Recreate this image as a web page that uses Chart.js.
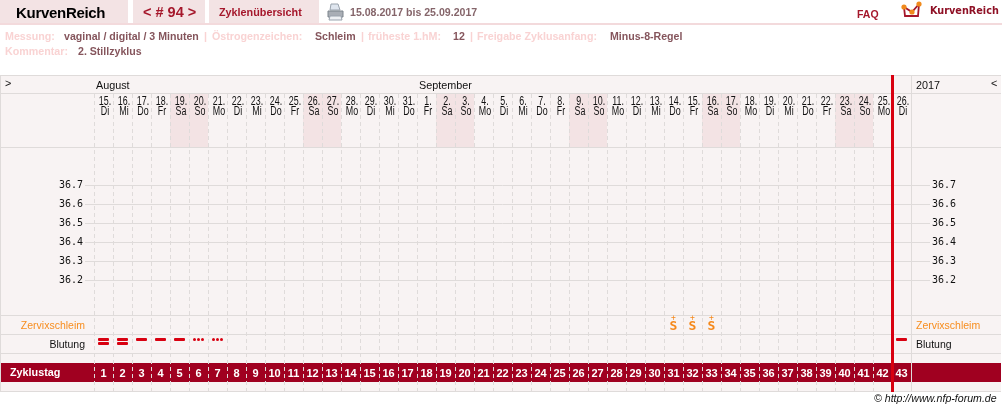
<!DOCTYPE html>
<html lang="de"><head><meta charset="utf-8"><title>KurvenReich</title>
<script src="https://cdn.jsdelivr.net/npm/chart.js@4/dist/chart.umd.min.js"></script>
<style>
html,body{margin:0;padding:0;background:#fff;width:1002px;height:411px;overflow:hidden}
body{position:relative;font-family:"Liberation Sans",Arial,sans-serif}
#c{position:absolute;left:0;top:0}
.t{position:absolute;white-space:nowrap;line-height:1;z-index:2}
.tab{position:absolute;top:0;height:23px;background:#f3e3e4}
.l{color:#f9d3d3;font-weight:bold;font-size:10.7px;top:31px}
.v{color:#85555c;font-weight:bold;font-size:10.6px;top:31px}
.g{font-size:10.8px;color:#111}
.r{font-size:10.5px}
</style></head><body>
<div class="tab" style="left:0;width:128px"></div>
<div class="tab" style="left:133px;width:72px"></div>
<div class="tab" style="left:209px;width:110px"></div>
<div style="position:absolute;left:0;top:23px;width:1002px;height:2px;background:#f3dadc"></div>
<span class="t" style="left:16px;top:5px;font-size:15px;letter-spacing:-0.3px;font-weight:bold;color:#000">KurvenReich</span>
<span class="t" style="left:143px;top:5px;font-size:14.5px;font-weight:bold;color:#a5172b">&lt; # 94 &gt;</span>
<span class="t" style="left:219px;top:7px;font-size:10.8px;font-weight:bold;color:#a5172b">Zyklenübersicht</span>
<svg style="position:absolute;left:327px;top:3px" width="17" height="18" viewBox="0 0 17 18"><path d="M4 1h7l2 6H3z" fill="#dfe6ef" stroke="#9aa3ad"/><path d="M1 8h15v6H1z" fill="#a9aeb5" stroke="#7d848c"/><path d="M3 13h11l1 4H2z" fill="#eef0f3" stroke="#9aa3ad"/></svg>
<span class="t" style="left:350px;top:7px;font-size:10.6px;font-weight:bold;color:#85656a">15.08.2017 bis 25.09.2017</span>
<span class="t" style="left:857px;top:9px;font-size:10.5px;font-weight:bold;color:#a5172b">FAQ</span>
<svg style="position:absolute;left:901px;top:1px" width="22" height="18" viewBox="0 0 22 18"><path d="M3 6L4 15H17L18 3" fill="none" stroke="#a5172b" stroke-width="1.8"/><path d="M3 6L11 11L18 3" fill="none" stroke="#a5172b" stroke-width="1.8"/><circle cx="3" cy="6" r="2.6" fill="#f08a1d"/><circle cx="11" cy="11" r="2.6" fill="#f08a1d"/><circle cx="18" cy="3" r="2.6" fill="#f08a1d"/></svg>
<span class="t" style="left:930px;top:6px;font-family:'DejaVu Sans';font-size:9.7px;font-weight:bold;color:#8f1025">KurvenReich</span>

<span class="t l" style="left:5px">Messung:</span>
<span class="t v" style="left:64px">vaginal / digital / 3 Minuten</span>
<span class="t l" style="left:204px">|</span>
<span class="t l" style="left:212px">Östrogenzeichen:</span>
<span class="t v" style="left:315px">Schleim</span>
<span class="t l" style="left:361px">|</span>
<span class="t l" style="left:368px">früheste 1.hM:</span>
<span class="t v" style="left:453px">12</span>
<span class="t l" style="left:470px">|</span>
<span class="t l" style="left:477px">Freigabe Zyklusanfang:</span>
<span class="t v" style="left:610px">Minus-8-Regel</span>
<span class="t l" style="left:5px;top:46px">Kommentar:</span>
<span class="t v" style="left:78px;top:46px">2. Stillzyklus</span>

<canvas id="c" width="1002" height="411"></canvas>

<span class="t g" style="left:5px;top:78px">&gt;</span>
<span class="t g" style="left:96px;top:80px">August</span>
<span class="t g" style="left:419px;top:80px">September</span>
<span class="t g" style="left:916px;top:80px">2017</span>
<span class="t g" style="left:991px;top:78px">&lt;</span>
<span class="t r" style="right:917px;top:320px;color:#f78d1e">Zervixschleim</span>
<span class="t g r" style="right:917px;top:339px">Blutung</span>
<span class="t r" style="left:916px;top:320px;color:#f78d1e">Zervixschleim</span>
<span class="t g r" style="left:916px;top:339px">Blutung</span>
<span class="t" style="left:10px;top:367px;font-size:10.8px;font-weight:bold;color:#fff">Zyklustag</span>
<span class="t" style="left:874px;top:393px;font-size:10.6px;font-style:italic;color:#111">© http://www.nfp-forum.de</span>

<script>
// ---- chart data ----
const cycleDays = ['1','2','3','4','5','6','7','8','9','10','11','12','13','14','15','16','17','18','19','20','21','22','23','24','25','26','27','28','29','30','31','32','33','34','35','36','37','38','39','40','41','42','43'];
const dates = ['15.','16.','17.','18.','19.','20.','21.','22.','23.','24.','25.','26.','27.','28.','29.','30.','31.','1.','2.','3.','4.','5.','6.','7.','8.','9.','10.','11.','12.','13.','14.','15.','16.','17.','18.','19.','20.','21.','22.','23.','24.','25.','26.'];
const weekdays = ['Di','Mi','Do','Fr','Sa','So','Mo','Di','Mi','Do','Fr','Sa','So','Mo','Di','Mi','Do','Fr','Sa','So','Mo','Di','Mi','Do','Fr','Sa','So','Mo','Di','Mi','Do','Fr','Sa','So','Mo','Di','Mi','Do','Fr','Sa','So','Mo','Di'];
const temperatureTicks = [36.7,36.6,36.5,36.4,36.3,36.2];
// bleeding: 3 = heavy, 2 = normal, 1 = spotting
const bleeding = [3,3,2,2,2,1,1,null,null,null,null,null,null,null,null,null,null,null,null,null,null,null,null,null,null,null,null,null,null,null,null,null,null,null,null,null,null,null,null,null,null,null,2];
const mucus = [null,null,null,null,null,null,null,null,null,null,null,null,null,null,null,null,null,null,null,null,null,null,null,null,null,null,null,null,null,null,'S+','S+','S+',null,null,null,null,null,null,null,null,null,null];
const cycleEndAfterDay = 42;

// ---- styling ----
const GRID='#dfdbda', PANEL='#f8f3f3', WEEKEND='#f3e3e4', BAND='#a00020', RED='#d80010', ORANGE='#f5881a';
const ROW_MUCUS=232, ROW_BLEED=247.5;

function bleedGlyph(level){
  const cv=document.createElement('canvas');cv.width=13;cv.height=9;
  const g=cv.getContext('2d');g.fillStyle=RED;
  const dash=y=>{g.beginPath();g.roundRect(1,y,11,3,1);g.fill();};
  if(level>=2)dash(1);
  if(level===3)dash(5);
  if(level===1){[2.5,6.5,10.5].forEach(x=>{g.beginPath();g.arc(x,2.5,1.5,0,7);g.fill();});}
  return cv;
}
const glyphs={1:bleedGlyph(1),2:bleedGlyph(2),3:bleedGlyph(3)};

const chrome={
  id:'chrome',
  beforeDraw(chart){
    const {ctx,chartArea:a}=chart;
    const step=a.width/cycleDays.length, panelTop=a.top-19, bottom=a.bottom;
    ctx.save();
    ctx.fillStyle=PANEL;ctx.fillRect(0,panelTop,1001,bottom-panelTop);
    ctx.fillStyle=WEEKEND;
    weekdays.forEach((w,i)=>{if(w==='Sa'||w==='So')ctx.fillRect(a.left+i*step,a.top,step,53);});
    ctx.fillStyle=BAND;ctx.fillRect(1,a.top+269,1000,19);
    ctx.fillStyle=GRID;
    [panelTop,a.top-1,a.top+53,a.top+221,a.top+240,a.top+259,bottom].forEach(y=>ctx.fillRect(0,y,1001,1));
    ctx.fillRect(0,panelTop,1,bottom-panelTop+1);
    ctx.restore();
  },
  afterDraw(chart){
    const {ctx,chartArea:a,scales:{x,xTop}}=chart;
    const step=a.width/cycleDays.length;
    ctx.save();
    ctx.fillStyle=GRID;ctx.fillRect(a.right,a.top-19,1,a.bottom-a.top+20);
    ctx.fillStyle=RED;
    const ex=x.getPixelForValue(cycleEndAfterDay-1)+step/2;
    ctx.fillRect(Math.floor(ex)-1,a.top-19,3,a.bottom-a.top+20);
    // condensed date / weekday header, placed by the top scale
    ctx.fillStyle='#111';ctx.textAlign='center';ctx.textBaseline='middle';
    ctx.font='12px "Liberation Sans"';
    dates.forEach((d,i)=>{
      const px=xTop.getPixelForValue(i)+1.5;
      ctx.save();ctx.translate(px,0);ctx.scale(0.74,1);
      ctx.fillText(d,0,a.top+8);ctx.fillText(weekdays[i],0,a.top+18);
      ctx.restore();
    });
    // mucus symbols as text, at the dataset's own points
    const pts=chart.getDatasetMeta(1).data;
    ctx.fillStyle=ORANGE;
    mucus.forEach((m,i)=>{
      if(!m)return;
      ctx.font='8px "DejaVu Sans Mono"';ctx.fillText(m[1],pts[i].x,pts[i].y-8);
      ctx.font='bold 13px "DejaVu Sans Mono"';ctx.fillText(m[0],pts[i].x,pts[i].y+1);
    });
    ctx.restore();
  }
};

new Chart(document.getElementById('c'),{
  type:'line',
  data:{labels:cycleDays,datasets:[
    {label:'Blutung',xAxisID:'x',yAxisID:'yRow',showLine:false,
     data:bleeding.map(v=>v?ROW_BLEED:null),
     pointStyle:c=>glyphs[bleeding[c.dataIndex]]||false,pointRadius:6},
    {label:'Zervixschleim',xAxisID:'x',yAxisID:'yRow',showLine:false,
     data:mucus.map(v=>v?ROW_MUCUS:null),pointRadius:0}
  ]},
  plugins:[chrome],
  options:{
    responsive:false,animation:false,devicePixelRatio:1,
    layout:{padding:0,autoPadding:false},
    plugins:{legend:{display:false},tooltip:{enabled:false}},
    events:[],
    scales:{
      x:{type:'category',position:'bottom',offset:true,
        afterFit:s=>{s.height=20;},
        grid:{offset:true,color:GRID,lineWidth:1,drawTicks:false},
        border:{display:false,dash:[4,3]},
        ticks:{mirror:true,padding:10.5,autoSkip:false,maxRotation:0,color:'#fff',font:{family:'"Liberation Sans"',size:11,weight:'bold'}}},
      xTop:{type:'category',axis:'x',position:'top',offset:true,
        labels:dates.map((d,i)=>[d,weekdays[i]]),
        afterFit:s=>{s.height=94;},
        grid:{display:false},border:{display:false},
        ticks:{display:false}},
      y:{type:'linear',position:'left',min:35.6184,max:37.1816,
        afterFit:s=>{s.width=94;},
        afterBuildTicks:s=>{s.ticks=temperatureTicks.map(v=>({value:v}));},
        grid:{color:GRID,tickColor:GRID,tickLength:9},border:{display:false},
        ticks:{padding:2,autoSkip:false,color:'#111',font:{family:'"DejaVu Sans Mono"',size:10},callback:v=>v.toFixed(1)}},
      yRight:{type:'linear',position:'right',min:35.6184,max:37.1816,
        afterFit:s=>{s.width=91;},
        afterBuildTicks:s=>{s.ticks=temperatureTicks.map(v=>({value:v}));},
        grid:{drawOnChartArea:false,tickColor:GRID,tickLength:19},border:{display:false},
        ticks:{padding:2,autoSkip:false,color:'#111',font:{family:'"DejaVu Sans Mono"',size:10},callback:v=>v.toFixed(1)}},
      yRow:{type:'linear',display:false,reverse:true,min:0,max:297}
    }
  }
});
</script>
</body></html>
